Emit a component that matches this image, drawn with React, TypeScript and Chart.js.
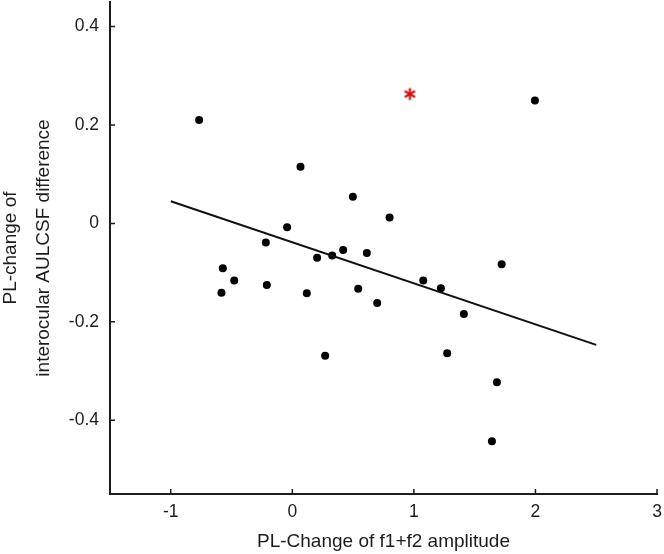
import { useEffect, useRef } from 'react';
import { Chart, registerables } from 'chart.js';

Chart.register(...registerables);

// ---- data ----
const pointX = [
  -0.767, 0.067, 0.498, 0.8, -0.043, -0.218, 0.204, 0.328, 0.418, 0.613,
  -0.572, -0.478, -0.583, -0.21, 0.119, 0.542, 1.077, 1.996, 1.722, 1.222,
  0.698, 1.411, 0.27, 1.274, 1.683, 1.642,
];
const pointY = [
  0.21, 0.115, 0.054, 0.012, -0.008, -0.039, -0.07, -0.065, -0.054, -0.06,
  -0.091, -0.116, -0.141, -0.125, -0.142, -0.133, -0.116, 0.25, -0.083, -0.132,
  -0.162, -0.184, -0.269, -0.264, -0.323, -0.443,
];
const fitLineX = [-1, 2.5];
const fitLineY = [0.045, -0.247];
const markerX = [0.967];
const markerY = [0.263];
const xTicks = [-1, 0, 1, 2, 3];
const yTicks = [-0.4, -0.2, 0, 0.2, 0.4];
const xRange = [-1.5, 3];
const yRange = [-0.55, 0.45];
const xTitle = 'PL-Change of f1+f2 amplitude';
const yTitle = ['PL-change of', 'interocular AULCSF difference'];

const FONT = "'Liberation Sans', Arial, sans-serif";
const INK = '#1c1c1c';

function makeAsterisk(): HTMLCanvasElement {
  const c = document.createElement('canvas');
  c.width = 15;
  c.height = 15;
  const g = c.getContext('2d')!;
  g.strokeStyle = '#d01010';
  g.lineWidth = 2.2;
  g.lineCap = 'butt';
  const cx = 7.5, cy = 7.5, r = 6;
  for (let k = 0; k < 3; k++) {
    const a = Math.PI / 2 + (k * Math.PI) / 3;
    g.beginPath();
    g.moveTo(cx - r * Math.cos(a), cy - r * Math.sin(a));
    g.lineTo(cx + r * Math.cos(a), cy + r * Math.sin(a));
    g.stroke();
  }
  return c;
}

const inwardTicks = {
  id: 'inwardTicks',
  afterDraw(chart: any) {
    const { ctx } = chart;
    const xs = chart.scales.x;
    const ys = chart.scales.y;
    ctx.save();
    ctx.strokeStyle = INK;
    ctx.lineWidth = 1.5;
    ctx.beginPath();
    xs.ticks.forEach((t: any) => {
      const px = xs.getPixelForValue(t.value);
      ctx.moveTo(px, xs.top);
      ctx.lineTo(px, xs.top - 5);
    });
    ys.ticks.forEach((t: any) => {
      const py = ys.getPixelForValue(t.value);
      ctx.moveTo(ys.right, py);
      ctx.lineTo(ys.right + 5, py);
    });
    ctx.stroke();
    ctx.restore();
  },
};

export default function App() {
  const ref = useRef<HTMLCanvasElement | null>(null);

  useEffect(() => {
    if (!ref.current) return;
    const chart = new Chart(ref.current, {
      type: 'scatter',
      data: {
        datasets: [
          {
            label: 'fit',
            type: 'line',
            data: fitLineX.map((x, i) => ({ x, y: fitLineY[i] })),
            borderColor: '#111',
            borderWidth: 2,
            pointRadius: 0,
            showLine: true,
            fill: false,
          } as any,
          {
            label: 'subjects',
            data: pointX.map((x, i) => ({ x, y: pointY[i] })),
            backgroundColor: '#000',
            borderColor: '#000',
            pointRadius: 4,
            pointBorderWidth: 0,
          },
          {
            label: 'marker',
            data: markerX.map((x, i) => ({ x, y: markerY[i] })),
            pointStyle: makeAsterisk(),
            pointRadius: 6,
          } as any,
        ],
      },
      options: {
        animation: false,
        responsive: false,
        events: [],
        layout: { autoPadding: false, padding: { left: 0, right: 7, top: 2, bottom: 0 } },
        plugins: { legend: { display: false }, tooltip: { enabled: false } },
        scales: {
          x: {
            type: 'linear',
            position: 'bottom',
            min: xRange[0],
            max: xRange[1],
            afterBuildTicks: (s: any) => {
              s.ticks = xTicks.map((v) => ({ value: v }));
            },
            afterFit: (s: any) => {
              s.height = 60;
              s.paddingLeft = 0;
              s.paddingRight = 0;
            },
            grid: { display: false, drawTicks: false },
            border: { display: true, color: INK, width: 2 },
            ticks: {
              color: INK,
              padding: 8,
              font: { family: FONT, size: 17.5 },
              callback: (v: any) => String(v),
            },
            title: {
              display: true,
              text: xTitle,
              color: INK,
              font: { family: FONT, size: 19 },
              padding: { top: 0, bottom: 1 },
            },
          },
          y: {
            type: 'linear',
            position: 'left',
            min: yRange[0],
            max: yRange[1],
            afterBuildTicks: (s: any) => {
              s.ticks = yTicks.map((v) => ({ value: v }));
            },
            afterFit: (s: any) => {
              s.width = 110;
              s.paddingTop = 0;
              s.paddingBottom = 0;
            },
            grid: { display: false, drawTicks: false },
            border: { display: true, color: INK, width: 2 },
            ticks: {
              color: INK,
              padding: 11,
              font: { family: FONT, size: 17.5 },
              callback: (v: any) => String(v),
            },
            title: {
              display: true,
              text: yTitle,
              color: INK,
              font: { family: FONT, size: 19, lineHeight: '33px' },
              padding: { top: -6, bottom: 0 },
            },
          },
        },
      },
      plugins: [inwardTicks],
    });
    return () => chart.destroy();
  }, []);

  return (
    <div style={{ position: 'absolute', left: 0, top: 0, width: 664, height: 554, background: '#fff' }}>
      <canvas ref={ref} width={664} height={554} style={{ display: 'block' }} />
    </div>
  );
}
